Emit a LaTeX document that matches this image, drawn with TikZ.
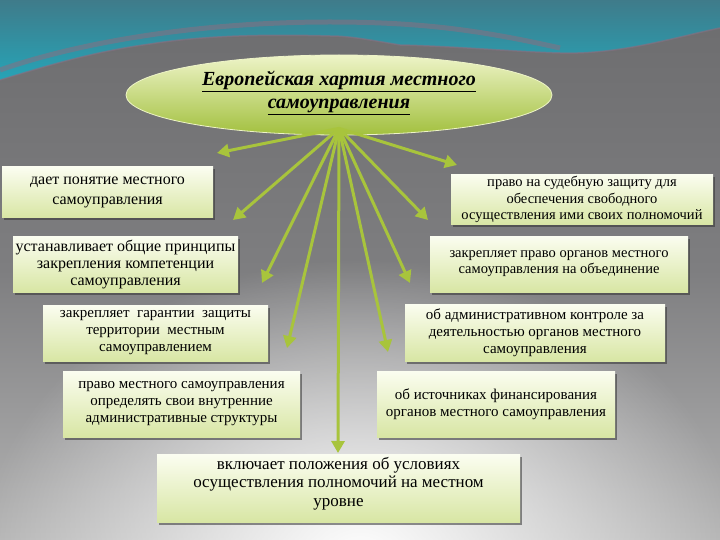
\documentclass[tikz,border=0pt]{standalone}
\usepackage{fontspec}
\setmainfont{Liberation Serif}
\usetikzlibrary{shapes.geometric,arrows.meta,shadows,fadings}
\definecolor{arrowgreen}{HTML}{A8C43C}
\definecolor{bgtop}{HTML}{6C6C6E}
\definecolor{bgmid}{HTML}{7E7E80}
\definecolor{bgbot}{HTML}{B4B4B4}
\definecolor{tealtop}{HTML}{3F7B8A}
\definecolor{tealbot}{HTML}{26A4B7}
\definecolor{mauve}{HTML}{8A6E80}
\definecolor{boxtop}{HTML}{FBFDF0}
\definecolor{boxbot}{HTML}{D8E6A4}
\definecolor{elltop}{HTML}{EEF4C8}
\definecolor{ellbot}{HTML}{A2C03E}
\tikzfading[name=glowfade, inner color=transparent!0, outer color=transparent!100]
\begin{document}
\begin{tikzpicture}[x=1pt,y=-1pt,
  box/.style={rectangle, align=center, inner sep=2pt,
    font=\fontsize{15}{17}\selectfont,
    top color=boxtop, bottom color=boxbot,
    drop shadow={shadow xshift=1.5pt, shadow yshift=-2.5pt, opacity=0.55, fill=black!80}},
  arr/.style={draw=arrowgreen, line width=3pt, -{Triangle[length=12pt,width=13pt]}}
]
% background
\useasboundingbox (0,0) rectangle (720,540);
\shade[top color=bgtop, bottom color=bgbot, middle color=bgmid] (0,0) rectangle (720,540);
\fill[white, path fading=glowfade] (360,560) ellipse (380 and 300);
% teal wave
\shade[top color=tealtop, bottom color=tealbot]
  (0,0) -- (720,0) -- (720,28)
  .. controls (680,36) and (620,55) .. (560,53)
  .. controls (520,52) and (450,46) .. (400,45)
  .. controls (370,40) and (350,36) .. (330,36)
  .. controls (260,34) and (200,36) .. (150,44)
  .. controls (90,52) and (40,68) .. (0,80) -- cycle;
\draw[mauve, line width=5pt, opacity=0.55]
  (0,70) .. controls (80,42) and (200,22) .. (330,22)
  .. controls (420,22) and (480,30) .. (560,48);
\draw[mauve, line width=1.5pt, opacity=0.6]
  (720,28)
  .. controls (680,36) and (620,55) .. (560,53)
  .. controls (520,52) and (450,46) .. (400,45)
  .. controls (370,40) and (350,36) .. (330,36)
  .. controls (260,34) and (200,36) .. (150,44)
  .. controls (90,52) and (40,68) .. (0,80);
% title ellipse
\node (title) [ellipse, minimum width=426pt, minimum height=80pt, inner sep=0pt,
  top color=elltop, bottom color=ellbot, draw=elltop, line width=0.8pt,
  align=center, font=\fontsize{20}{23}\selectfont\bfseries\itshape]
  at (339,95) {\underline{Европейская хартия местного}\\\underline{самоуправления}\rule[-10pt]{0pt}{0pt}};
% boxes
\node (b1) [box, minimum width=211pt, minimum height=51pt, font=\fontsize{16}{20}\selectfont]
  at (107.5,192.5) {дает понятие местного\\самоуправления};
\node (b2) [box, minimum width=225pt, minimum height=56pt, font=\fontsize{16}{17}\selectfont]
  at (125.5,264) {устанавливает общие принципы\\закрепления компетенции\\самоуправления};
\node (b3) [box, minimum width=225pt, minimum height=56pt]
  at (155.5,333) {закрепляет~ гарантии~ защиты\\территории~ местным\\самоуправлением};
\node (b4) [box, minimum width=237pt, minimum height=66pt]
  at (181.5,404) {право местного самоуправления\\определять свои внутренние\\административные структуры};
\node (b5) [box, minimum width=262pt, minimum height=49pt, font=\fontsize{14.5}{16.5}\selectfont]
  at (582,199.5) {право на судебную защиту для\\обеспечения свободного\\осуществления ими своих полномочий};
\node (b6) [box, minimum width=258pt, minimum height=56pt, font=\fontsize{14.5}{16}\selectfont]
  at (559,264) {закрепляет право органов местного\\самоуправления на объединение};
\node (b7) [box, minimum width=260pt, minimum height=57pt]
  at (535,332.5) {об административном контроле за\\деятельностью органов местного\\самоуправления};
\node (b8) [box, minimum width=238pt, minimum height=66pt]
  at (496,404) {об источниках финансирования\\органов местного самоуправления};
\node (b9) [box, minimum width=363pt, minimum height=67pt, font=\fontsize{17}{18.5}\selectfont]
  at (338.5,488.5) {включает положения об условиях\\осуществления полномочий на местном\\уровне\rule[-14pt]{0pt}{0pt}};
% arrows
\coordinate (o) at ([yshift=7pt]title.south);
\coordinate (t1) at (217,153);
\coordinate (t2) at (233,220);
\coordinate (t3) at (262,283);
\coordinate (t4) at (287,348);
\coordinate (t5) at (338,453);
\coordinate (t6) at (388,352);
\coordinate (t7) at (410,283);
\coordinate (t8) at (428,220);
\coordinate (t9) at (457,165);
\foreach \t in {t1,t2,t3,t4,t5,t6,t7,t8,t9}
  \draw[arr] (o) -- (\t);
\end{tikzpicture}
\end{document}
